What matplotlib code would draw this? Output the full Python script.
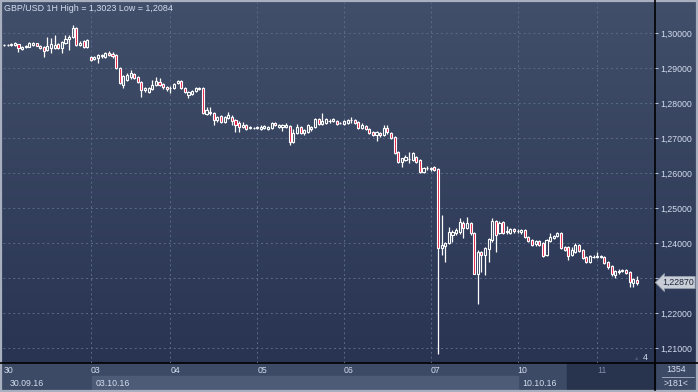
import numpy as np
import matplotlib.pyplot as plt
from matplotlib.patches import Rectangle, Polygon
from matplotlib.transforms import blended_transform_factory

W, H = 698, 392

# GBP/USD hourly candles, 30.09.16 -> 11.10.16 (one row per trading day)
opens = [
    1.2966, 1.2967, 1.2966, 1.2965, 1.2968, 1.2954, 1.2960, 1.2961, 1.2966, 1.2971, 1.2964, 1.2960,
    1.2951, 1.2957, 1.2958, 1.2968, 1.2956, 1.2972, 1.2983, 1.2990, 1.3013, 1.2966, 1.2978, 1.2961,
    1.2931, 1.2926, 1.2928, 1.2934, 1.2931, 1.2943, 1.2940, 1.2937, 1.2900, 1.2851, 1.2866,
    1.2874, 1.2883, 1.2874, 1.2860, 1.2837, 1.2831, 1.2840, 1.2851, 1.2860, 1.2854, 1.2846,
    1.2843, 1.2843, 1.2857, 1.2863, 1.2843, 1.2823, 1.2826, 1.2834, 1.2840, 1.2843, 1.2769, 1.2774,
    1.2771, 1.2751, 1.2763, 1.2746, 1.2757, 1.2760, 1.2751, 1.2743, 1.2731, 1.2737, 1.2729, 1.2729,
    1.2729, 1.2726, 1.2729, 1.2726, 1.2729, 1.2743, 1.2731, 1.2731, 1.2731, 1.2734, 1.2689, 1.2714,
    1.2731, 1.2714, 1.2717, 1.2726, 1.2731, 1.2754, 1.2740, 1.2743, 1.2749, 1.2749, 1.2749, 1.2743,
    1.2740, 1.2743, 1.2751, 1.2751, 1.2746, 1.2729, 1.2734, 1.2726, 1.2717, 1.2709, 1.2714, 1.2709,
    1.2729, 1.2714, 1.2703, 1.2660, 1.2631, 1.2637, 1.2640, 1.2637, 1.2646, 1.2637, 1.2603, 1.2614,
    1.2611, 1.2617, 1.2611, 1.2386, 1.2391, 1.2400, 1.2423, 1.2429, 1.2431, 1.2457, 1.2443, 1.2457,
    1.2429, 1.2311, 1.2374, 1.2366, 1.2383, 1.2409, 1.2463, 1.2429, 1.2460, 1.2431, 1.2429, 1.2440,
    1.2434, 1.2431, 1.2437, 1.2417, 1.2409, 1.2397, 1.2406, 1.2400, 1.2366, 1.2406, 1.2414,
    1.2420, 1.2429, 1.2389, 1.2389, 1.2366, 1.2374, 1.2394, 1.2380, 1.2360, 1.2346, 1.2360,
    1.2360, 1.2360, 1.2360, 1.2346, 1.2334, 1.2309, 1.2317, 1.2320, 1.2323, 1.2317, 1.2286, 1.2294,
]
highs = [
    1.2968, 1.2970, 1.2972, 1.2975, 1.2970, 1.2962, 1.2965, 1.2974, 1.2973, 1.2972, 1.2966, 1.2963,
    1.2990, 1.2985, 1.2994, 1.2972, 1.2978, 1.2994, 1.2993, 1.3023, 1.3017, 1.2976, 1.2980, 1.2982,
    1.2934, 1.2933, 1.2940, 1.2940, 1.2946, 1.2948, 1.2945, 1.2940, 1.2903, 1.2880, 1.2885,
    1.2894, 1.2887, 1.2877, 1.2863, 1.2845, 1.2846, 1.2866, 1.2874, 1.2871, 1.2857, 1.2849,
    1.2849, 1.2857, 1.2866, 1.2866, 1.2846, 1.2834, 1.2837, 1.2846, 1.2846, 1.2846, 1.2789, 1.2789,
    1.2774, 1.2763, 1.2766, 1.2763, 1.2774, 1.2766, 1.2754, 1.2749, 1.2746, 1.2740, 1.2734, 1.2731,
    1.2734, 1.2737, 1.2737, 1.2734, 1.2746, 1.2746, 1.2740, 1.2740, 1.2743, 1.2737, 1.2726, 1.2740,
    1.2734, 1.2726, 1.2740, 1.2734, 1.2757, 1.2757, 1.2771, 1.2757, 1.2754, 1.2757, 1.2751, 1.2746,
    1.2751, 1.2754, 1.2760, 1.2754, 1.2749, 1.2743, 1.2737, 1.2729, 1.2720, 1.2720, 1.2717, 1.2737,
    1.2737, 1.2717, 1.2706, 1.2663, 1.2643, 1.2651, 1.2660, 1.2660, 1.2648, 1.2640, 1.2617, 1.2620,
    1.2617, 1.2620, 1.2614, 1.2480, 1.2403, 1.2446, 1.2437, 1.2443, 1.2471, 1.2463, 1.2474, 1.2460,
    1.2431, 1.2380, 1.2377, 1.2389, 1.2414, 1.2471, 1.2466, 1.2463, 1.2463, 1.2449, 1.2443, 1.2443,
    1.2440, 1.2440, 1.2440, 1.2420, 1.2411, 1.2409, 1.2409, 1.2403, 1.2411, 1.2429, 1.2423,
    1.2431, 1.2431, 1.2391, 1.2391, 1.2389, 1.2400, 1.2397, 1.2383, 1.2363, 1.2366, 1.2366,
    1.2374, 1.2366, 1.2363, 1.2349, 1.2337, 1.2323, 1.2326, 1.2326, 1.2326, 1.2320, 1.2300, 1.2306,
]
lows = [
    1.2964, 1.2964, 1.2963, 1.2962, 1.2945, 1.2952, 1.2958, 1.2960, 1.2964, 1.2962, 1.2954, 1.2932,
    1.2948, 1.2942, 1.2955, 1.2955, 1.2942, 1.2968, 1.2951, 1.2985, 1.2962, 1.2962, 1.2958, 1.2958,
    1.2920, 1.2924, 1.2914, 1.2930, 1.2929, 1.2935, 1.2930, 1.2898, 1.2855, 1.2843, 1.2862,
    1.2870, 1.2868, 1.2857, 1.2817, 1.2831, 1.2828, 1.2836, 1.2848, 1.2848, 1.2840, 1.2834,
    1.2829, 1.2840, 1.2854, 1.2840, 1.2829, 1.2814, 1.2823, 1.2831, 1.2837, 1.2769, 1.2766, 1.2766,
    1.2737, 1.2746, 1.2743, 1.2743, 1.2754, 1.2737, 1.2717, 1.2717, 1.2729, 1.2723, 1.2726, 1.2726,
    1.2726, 1.2723, 1.2726, 1.2723, 1.2726, 1.2734, 1.2729, 1.2720, 1.2729, 1.2680, 1.2686, 1.2711,
    1.2711, 1.2709, 1.2714, 1.2720, 1.2729, 1.2737, 1.2737, 1.2740, 1.2743, 1.2746, 1.2737, 1.2740,
    1.2737, 1.2740, 1.2743, 1.2740, 1.2726, 1.2726, 1.2723, 1.2711, 1.2706, 1.2691, 1.2703, 1.2706,
    1.2711, 1.2697, 1.2655, 1.2628, 1.2617, 1.2634, 1.2628, 1.2634, 1.2628, 1.2600, 1.2600, 1.2608,
    1.2606, 1.2606, 1.2084, 1.2366, 1.2346, 1.2397, 1.2403, 1.2423, 1.2426, 1.2414, 1.2440, 1.2423,
    1.2311, 1.2226, 1.2317, 1.2309, 1.2346, 1.2403, 1.2374, 1.2426, 1.2426, 1.2426, 1.2426, 1.2429,
    1.2429, 1.2426, 1.2414, 1.2403, 1.2391, 1.2391, 1.2391, 1.2360, 1.2363, 1.2403, 1.2411,
    1.2417, 1.2383, 1.2377, 1.2351, 1.2363, 1.2371, 1.2374, 1.2354, 1.2343, 1.2343, 1.2357,
    1.2357, 1.2357, 1.2340, 1.2326, 1.2306, 1.2300, 1.2311, 1.2317, 1.2311, 1.2274, 1.2274, 1.2280,
]
closes = [
    1.2967, 1.2966, 1.2968, 1.2972, 1.2956, 1.2960, 1.2963, 1.2971, 1.2971, 1.2964, 1.2956, 1.2949,
    1.2964, 1.2968, 1.2967, 1.2958, 1.2975, 1.2982, 1.2990, 1.3015, 1.2966, 1.2972, 1.2961, 1.2979,
    1.2923, 1.2931, 1.2937, 1.2937, 1.2943, 1.2937, 1.2934, 1.2900, 1.2857, 1.2877, 1.2880,
    1.2886, 1.2871, 1.2860, 1.2837, 1.2843, 1.2843, 1.2851, 1.2863, 1.2851, 1.2846, 1.2840,
    1.2844, 1.2854, 1.2863, 1.2843, 1.2831, 1.2831, 1.2834, 1.2843, 1.2843, 1.2771, 1.2780, 1.2771,
    1.2751, 1.2760, 1.2746, 1.2760, 1.2766, 1.2749, 1.2737, 1.2731, 1.2737, 1.2726, 1.2731, 1.2729,
    1.2731, 1.2731, 1.2734, 1.2731, 1.2743, 1.2737, 1.2737, 1.2737, 1.2737, 1.2689, 1.2714, 1.2731,
    1.2714, 1.2723, 1.2737, 1.2731, 1.2754, 1.2740, 1.2749, 1.2754, 1.2749, 1.2754, 1.2740, 1.2743,
    1.2749, 1.2751, 1.2751, 1.2743, 1.2729, 1.2737, 1.2726, 1.2714, 1.2709, 1.2717, 1.2709, 1.2729,
    1.2717, 1.2700, 1.2657, 1.2631, 1.2643, 1.2646, 1.2640, 1.2657, 1.2631, 1.2603, 1.2614, 1.2614,
    1.2614, 1.2609, 1.2386, 1.2394, 1.2400, 1.2431, 1.2431, 1.2437, 1.2460, 1.2443, 1.2457, 1.2429,
    1.2311, 1.2374, 1.2366, 1.2386, 1.2411, 1.2463, 1.2423, 1.2457, 1.2429, 1.2434, 1.2440, 1.2434,
    1.2434, 1.2437, 1.2417, 1.2406, 1.2394, 1.2406, 1.2394, 1.2363, 1.2409, 1.2417, 1.2420,
    1.2429, 1.2386, 1.2380, 1.2363, 1.2380, 1.2394, 1.2377, 1.2357, 1.2346, 1.2363, 1.2360,
    1.2363, 1.2363, 1.2343, 1.2331, 1.2311, 1.2320, 1.2320, 1.2323, 1.2314, 1.2289, 1.2297, 1.2287,
]
day_start = [0, 24, 46, 70, 94, 118, 142, 164]
day_labels = ['30', '03', '04', '05', '06', '07', '10', '11']
date_labels = ['30.09.16', '03.10.16', '10.10.16']
price_ticks = [1.21, 1.22, 1.23, 1.24, 1.25, 1.26, 1.27, 1.28, 1.29, 1.30]

o = np.array(opens); h = np.array(highs); l = np.array(lows); c = np.array(closes)
x = np.arange(len(o))
last_price = closes[-1]

txt = '#d3ddef'
red = '#e3173e'
plt.rcParams['font.family'] = ['Liberation Sans', 'DejaVu Sans']

fig = plt.figure(figsize=(W / 100, H / 100), dpi=100)

# background panels in pixel coordinates
bg = fig.add_axes([0, 0, 1, 1], zorder=0)
bg.set_xlim(0, W); bg.set_ylim(H, 0); bg.axis('off')
top = np.array([66, 79, 106]) / 255
bot = np.array([40, 52, 82]) / 255
g = np.linspace(0, 1, 256)[:, None, None]
bg.imshow(top + (bot - top) * g, extent=(0, W, 363, 0), aspect='auto')
bg.add_patch(Rectangle((0, 363), W, 29, color='#3d4a65'))
bg.add_patch(Rectangle((92, 376), 426, 14, color='#4e5b77'))
bg.add_patch(Rectangle((567, 363), 88, 27, color='#28334d'))
bg.plot([0, W], [363, 363], color='black', lw=1.2)
bg.plot([655, 655], [0, 390], color='black', lw=1.2)
bg.plot([662, 694], [377, 377], color='#aab4c8', lw=0.6)
bg.text(676, 370, '1354', color=txt, fontsize=6.3, ha='center', va='center')
bg.text(676, 384, '>181<', color=txt, fontsize=6.3, ha='center', va='center')
for lab, px in zip(date_labels, [10, 96, 522]):
    bg.text(px, 383.5, lab, color=txt, fontsize=6.3, ha='left', va='center')
bg.add_patch(Rectangle((0.8, 0.5), W - 1.6, H - 1.3, fill=False, ec='#a8b0c0', lw=1.6))

# main price axes
ax = fig.add_axes([3 / W, (H - 363) / H, 652 / W, 361 / H], zorder=2)
ax.patch.set_alpha(0)
ax.set_xlim(-0.28, 180.0)
ax.set_ylim(1.30943 - 363 / 3500, 1.30943 - 2 / 3500)
for s in ax.spines.values():
    s.set_visible(False)

for d in day_start[1:]:
    ax.axvline(d, color='#5b6a88', lw=0.7, ls=(0, (2, 3)), zorder=1)
for p in price_ticks:
    ax.axhline(p, color='#5b6a88', lw=0.7, ls=(0, (2, 3)), zorder=1)

body_lo = np.minimum(o, c); body_hi = np.maximum(o, c)
ax.vlines(x, l, body_lo, color='white', lw=0.9, zorder=3)
ax.vlines(x, body_hi, h, color='white', lw=0.9, zorder=3)
face = np.where(c < o, red, 'none')
ax.bar(x, body_hi - body_lo, bottom=body_lo, width=0.58, color=face,
       edgecolor='white', linewidth=0.8, zorder=4)

ax.yaxis.tick_right()
ax.set_yticks(price_ticks)
ax.set_yticklabels([f'{p:.5f}'.replace('.', ',') for p in price_ticks])
ax.tick_params(axis='y', colors=txt, labelsize=6.3, length=2, width=0.6, pad=1.5)
ax.set_xticks(day_start)
ax.set_xticklabels(day_labels, ha='left')
ax.tick_params(axis='x', colors=txt, labelsize=6.3, length=0, pad=2.5)
ax.get_xticklabels()[-1].set_color('#7d8ba8')

tr = blended_transform_factory(ax.transAxes, ax.transData)
ax.text(1.0105, last_price, f'{last_price:.5f}'.replace('.', ','), transform=tr,
        color='#1c2438', fontsize=6.3, ha='left', va='center', clip_on=False,
        bbox=dict(boxstyle='larrow,pad=0.18', fc='#c8cdd6', ec='#9099aa', lw=0.6))

fig.text(4 / W, 1 - 8.5 / H,
         f'GBP/USD 1H High = {max(highs):.4f} Low = {min(lows):.4f}'.replace('.', ','),
         color=txt, fontsize=6.4, ha='left', va='center')
fig.text(645 / W, 1 - 357 / H, '4', color=txt, fontsize=6.3, ha='center', va='center')
fig.text(637 / W, 1 - 358 / H, '\u25b2', color='#4a5670', fontsize=4, ha='center', va='center')

fig.savefig('out.png', dpi=100)
